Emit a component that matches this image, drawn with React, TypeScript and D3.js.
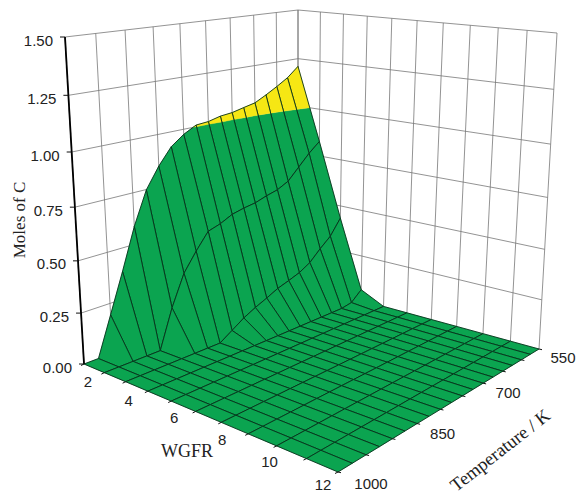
import React from "react";
import * as d3 from "d3";

const wgfr = [2, 3, 4, 5, 6, 7, 8, 9, 10, 11, 12];
const temps = [550, 575, 600, 625, 650, 675, 700, 725, 750, 775, 800, 825, 850, 875, 900, 925, 950, 975, 1000];
const molesW2 = [1.21, 1.16, 1.124, 1.091, 1.061, 1.048, 1.034, 1.028, 1.013, 1.008, 0.975, 0.928, 0.848, 0.748, 0.587, 0.386, 0.193, 0, 0];
const molesW3 = [0.828, 0.778, 0.718, 0.658, 0.628, 0.612, 0.592, 0.582, 0.567, 0.537, 0.517, 0.436, 0.345, 0.193, 0, 0, 0, 0, 0];
const molesW4 = [0.432, 0.35, 0.3, 0.244, 0.21, 0.188, 0.168, 0.139, 0.112, 0.081, 0.04, 0, 0, 0, 0, 0, 0, 0, 0];
const molesW5 = [0.06, 0.01, 0, 0, 0, 0, 0, 0, 0, 0, 0, 0, 0, 0, 0, 0, 0, 0, 0];
const molesW6 = [0, 0, 0, 0, 0, 0, 0, 0, 0, 0, 0, 0, 0, 0, 0, 0, 0, 0, 0];
const molesW7 = [0, 0, 0, 0, 0, 0, 0, 0, 0, 0, 0, 0, 0, 0, 0, 0, 0, 0, 0];
const molesW8 = [0, 0, 0, 0, 0, 0, 0, 0, 0, 0, 0, 0, 0, 0, 0, 0, 0, 0, 0];
const molesW9 = [0, 0, 0, 0, 0, 0, 0, 0, 0, 0, 0, 0, 0, 0, 0, 0, 0, 0, 0];
const molesW10 = [0, 0, 0, 0, 0, 0, 0, 0, 0, 0, 0, 0, 0, 0, 0, 0, 0, 0, 0];
const molesW11 = [0, 0, 0, 0, 0, 0, 0, 0, 0, 0, 0, 0, 0, 0, 0, 0, 0, 0, 0];
const molesW12 = [0, 0, 0, 0, 0, 0, 0, 0, 0, 0, 0, 0, 0, 0, 0, 0, 0, 0, 0];
const moles = [molesW2, molesW3, molesW4, molesW5, molesW6, molesW7, molesW8, molesW9, molesW10, molesW11, molesW12];

const zTicks = [0, 0.25, 0.5, 0.75, 1, 1.25, 1.5];
const wgfrMinor = wgfr;
const wgfrLabels = [2, 4, 6, 8, 10, 12];
const tempMinor = [550, 600, 650, 700, 750, 800, 850, 900, 950, 1000];
const tempLabels = [550, 700, 850, 1000];
const LEVEL = 1.0;
const GREEN = "#0ba450";
const YELLOW = "#f6e714";

type Pt = [number, number];

function quadMap(p00: Pt, p10: Pt, p11: Pt, p01: Pt) {
  const dx1 = p10[0] - p11[0], dx2 = p01[0] - p11[0], sx = p00[0] - p10[0] + p11[0] - p01[0];
  const dy1 = p10[1] - p11[1], dy2 = p01[1] - p11[1], sy = p00[1] - p10[1] + p11[1] - p01[1];
  const den = dx1 * dy2 - dx2 * dy1;
  const g = (sx * dy2 - dx2 * sy) / den, h = (dx1 * sy - sx * dy1) / den;
  const a = p10[0] - p00[0] + g * p10[0], b = p01[0] - p00[0] + h * p01[0], c = p00[0];
  const d = p10[1] - p00[1] + g * p10[1], e = p01[1] - p00[1] + h * p01[1], f = p00[1];
  return (u: number, v: number): Pt => {
    const q = g * u + h * v + 1;
    return [(a * u + b * v + c) / q, (d * u + e * v + f) / q];
  };
}

const uScale = d3.scaleLinear().domain([2, 12]).range([0, 1]);
const vScale = d3.scaleLinear().domain([1000, 550]).range([0, 1]);
const hScale = d3.scaleLinear().domain([0, 1.5]).range([0, 1]);
const floorMap = quadMap([84, 364], [338, 472], [539, 349], [298, 283]);
const topMap = quadMap([65, 37], [341, 72], [557, 33], [298, 10]);

function project(w: number, t: number, z: number): Pt {
  const u = uScale(w), v = vScale(t), h = hScale(z);
  const s = h / (1 + 0.085 * (1 - h));
  const a = floorMap(u, v), b = topMap(u, v);
  return [a[0] + (b[0] - a[0]) * s, a[1] + (b[1] - a[1]) * s];
}

type V3 = [number, number, number];
const path = d3.line<V3>().x((d) => project(d[0], d[1], d[2])[0]).y((d) => project(d[0], d[1], d[2])[1]);

function clip(poly: V3[], above: boolean): V3[] {
  const out: V3[] = [];
  poly.forEach((p, k) => {
    const q = poly[(k + 1) % poly.length];
    const pin = above ? p[2] >= LEVEL : p[2] <= LEVEL;
    const qin = above ? q[2] >= LEVEL : q[2] <= LEVEL;
    if (pin) out.push(p);
    if (pin !== qin) {
      const r = (LEVEL - p[2]) / (q[2] - p[2]);
      out.push([p[0] + (q[0] - p[0]) * r, p[1] + (q[1] - p[1]) * r, LEVEL]);
    }
  });
  return out;
}

const GRID = "#777";
const labelOffsets: Record<number, Pt> = { 2: [4, 23], 4: [3, 24], 6: [3, 22], 8: [1, 23], 10: [-7, 21], 12: [-15, 18] };
const tempOffsets: Record<number, Pt> = { 550: [24, 14], 700: [25, 15], 850: [25.5, 15], 1000: [33, 17] };

export default function App() {
  const cells: React.ReactNode[] = [];
  for (let i = 0; i < wgfr.length - 1; i++) {
    for (let j = 0; j < temps.length - 1; j++) {
      const quad: V3[] = [
        [wgfr[i], temps[j], moles[i][j]],
        [wgfr[i + 1], temps[j], moles[i + 1][j]],
        [wgfr[i + 1], temps[j + 1], moles[i + 1][j + 1]],
        [wgfr[i], temps[j + 1], moles[i][j + 1]],
      ];
      const low = clip(quad, false);
      const high = clip(quad, true);
      cells.push(
        <g key={`${i}-${j}`}>
          {low.length > 2 && <path d={path(low) + "Z"} fill={GREEN} stroke={GREEN} strokeWidth={0.3} />}
          {high.length > 2 && <path d={path(high) + "Z"} fill={YELLOW} stroke={YELLOW} strokeWidth={0.3} />}
          <path d={path(quad) + "Z"} fill="none" stroke="#07301a" strokeWidth={0.9} strokeLinejoin="round" />
        </g>
      );
    }
  }
  const tFar = 550, tNear = 1000, wFar = 2, wNear = 12;
  const line2 = (a: V3, b: V3) => path([a, b]) as string;
  return (
    <svg width={579} height={495} style={{ position: "absolute", left: 0, top: 0, background: "#fff" }}>
      <g fill="none" stroke={GRID} strokeWidth={0.8}>
        {zTicks.filter((z) => z > 0).map((z) => (
          <g key={z}>
            <path d={line2([wFar, tNear, z], [wFar, tFar, z])} />
            <path d={line2([wFar, tFar, z], [wNear, tFar, z])} />
          </g>
        ))}
        {tempMinor.map((t) => (
          <path key={t} d={line2([wFar, t, 0], [wFar, t, 1.5])} />
        ))}
        {wgfrMinor.map((w) => (
          <path key={w} d={line2([w, tFar, 0], [w, tFar, 1.5])} />
        ))}
      </g>
      {cells}
      <path d={line2([wFar, tNear, 0], [wFar, tNear, 1.5])} stroke="#000" strokeWidth={1.8} fill="none" />
      <g stroke="#111" strokeWidth={1}>
        {zTicks.map((z) => {
          const p = project(wFar, tNear, z);
          return <line key={z} x1={p[0] - 5} y1={p[1]} x2={p[0]} y2={p[1]} />;
        })}
        {wgfrMinor.map((w) => {
          const p = project(w, tNear, 0);
          return <line key={w} x1={p[0]} y1={p[1]} x2={p[0] - 3} y2={p[1] + 1.5} />;
        })}
        {tempMinor.map((t) => {
          const p = project(wNear, t, 0);
          return <line key={t} x1={p[0]} y1={p[1]} x2={p[0] + 3} y2={p[1] + 0.7} />;
        })}
      </g>
      <g fontFamily="'Liberation Sans', Arial, sans-serif" fontSize={15} fill="#222">
        {zTicks.map((z) => {
          const p = project(wFar, tNear, z);
          return (
            <text key={z} x={p[0] - 12} y={p[1] + 8.5} textAnchor="end">
              {z.toFixed(2)}
            </text>
          );
        })}
        {wgfrLabels.map((w) => {
          const p = project(w, tNear, 0);
          const o = labelOffsets[w];
          return (
            <text key={w} x={p[0] + o[0]} y={p[1] + o[1]} textAnchor="middle">
              {w}
            </text>
          );
        })}
        {tempLabels.map((t) => {
          const p = project(wNear, t, 0);
          const o = tempOffsets[t];
          return (
            <text key={t} x={p[0] + o[0]} y={p[1] + o[1]} textAnchor="middle">
              {t}
            </text>
          );
        })}
      </g>
      <g fontFamily="'Liberation Serif', 'Times New Roman', serif" fill="#222">
        <text x={187} y={457} fontSize={18} textAnchor="middle">WGFR</text>
        <text transform="translate(25,220) rotate(-90)" fontSize={17} textAnchor="middle">Moles of C</text>
        <text transform="translate(504,455) rotate(-38)" fontSize={18.5} textAnchor="middle">Temperature / K</text>
      </g>
    </svg>
  );
}
